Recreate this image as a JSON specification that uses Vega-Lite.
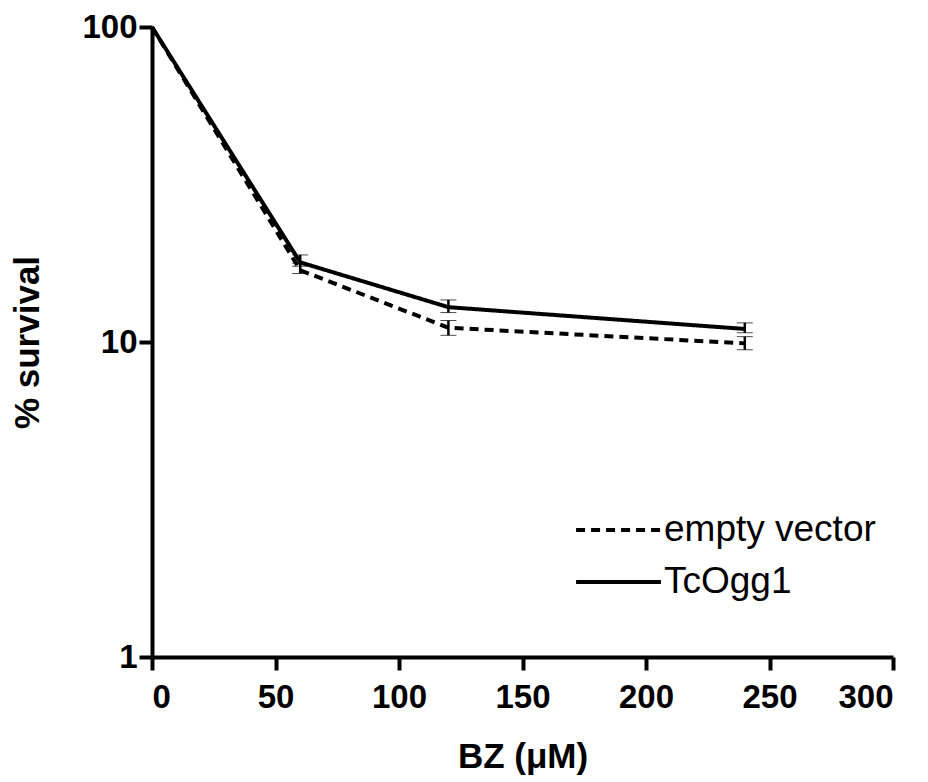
{
  "$schema": "https://vega.github.io/schema/vega-lite/v6.json",
  "autosize": "none",
  "width": 741,
  "height": 630,
  "padding": {"left": 152, "top": 27, "right": 35, "bottom": 125},
  "background": "white",
  "config": {
    "view": {"stroke": null},
    "font": "Liberation Sans",
    "axis": {"grid": false, "domainColor": "black", "tickColor": "black", "labelColor": "black", "titleColor": "black", "domainWidth": 4, "tickWidth": 4, "tickSize": 13, "labelFont": "Liberation Sans", "labelFontWeight": "bold", "labelFontSize": 33, "titleFont": "Liberation Sans", "titleFontWeight": "bold", "titleFontSize": 35}
  },
  "data": {
    "values": [
      {"bz": 0, "series": "empty vector", "surv": 100, "lo": 100, "hi": 100},
      {"bz": 60, "series": "empty vector", "surv": 16.9, "lo": 16.5, "hi": 17.8},
      {"bz": 120, "series": "empty vector", "surv": 11.1, "lo": 10.5, "hi": 11.7},
      {"bz": 240, "series": "empty vector", "surv": 9.9, "lo": 9.45, "hi": 10.4},
      {"bz": 0, "series": "TcOgg1", "surv": 100, "lo": 100, "hi": 100},
      {"bz": 60, "series": "TcOgg1", "surv": 17.9, "lo": 17.4, "hi": 18.9},
      {"bz": 120, "series": "TcOgg1", "surv": 12.9, "lo": 12.4, "hi": 13.6},
      {"bz": 240, "series": "TcOgg1", "surv": 11.0, "lo": 10.7, "hi": 11.5}
    ]
  },
  "layer": [
    {
      "mark": {"type": "line", "color": "black", "strokeWidth": 4},
      "encoding": {
        "x": {"field": "bz", "type": "quantitative", "scale": {"domain": [0, 300], "nice": false, "zero": false}, "axis": {"values": [0, 50, 100, 150, 200, 250, 300], "title": "BZ (μM)", "labelPadding": 11, "titlePadding": 25}},
        "y": {"field": "surv", "type": "quantitative", "scale": {"type": "log", "domain": [1, 100], "nice": false}, "axis": {"values": [1, 10, 100], "format": ".0f", "title": "% survival", "labelPadding": 2, "titlePadding": 36}},
        "strokeDash": {"field": "series", "type": "nominal", "scale": {"domain": ["empty vector", "TcOgg1"], "range": [[9, 6], [1, 0]]}, "legend": {"title": null, "orient": "none", "legendX": 422, "legendY": 478, "symbolType": "stroke", "symbolSize": 7200, "symbolStrokeWidth": 4, "symbolStrokeColor": "black", "labelFont": "Liberation Sans", "labelFontSize": 37, "labelColor": "black", "labelOffset": 1, "labelLimit": 400, "clipHeight": 50, "rowPadding": 2}}
      }
    },
    {
      "transform": [{"filter": "datum.bz > 0"}],
      "mark": {"type": "errorbar", "ticks": {"size": 16, "strokeWidth": 3, "color": "black"}, "rule": {"strokeWidth": 2.5, "color": "black"}},
      "encoding": {
        "x": {"field": "bz", "type": "quantitative"},
        "y": {"field": "lo", "type": "quantitative", "title": "% survival"},
        "y2": {"field": "hi"},
        "detail": {"field": "series"}
      }
    }
  ]
}
